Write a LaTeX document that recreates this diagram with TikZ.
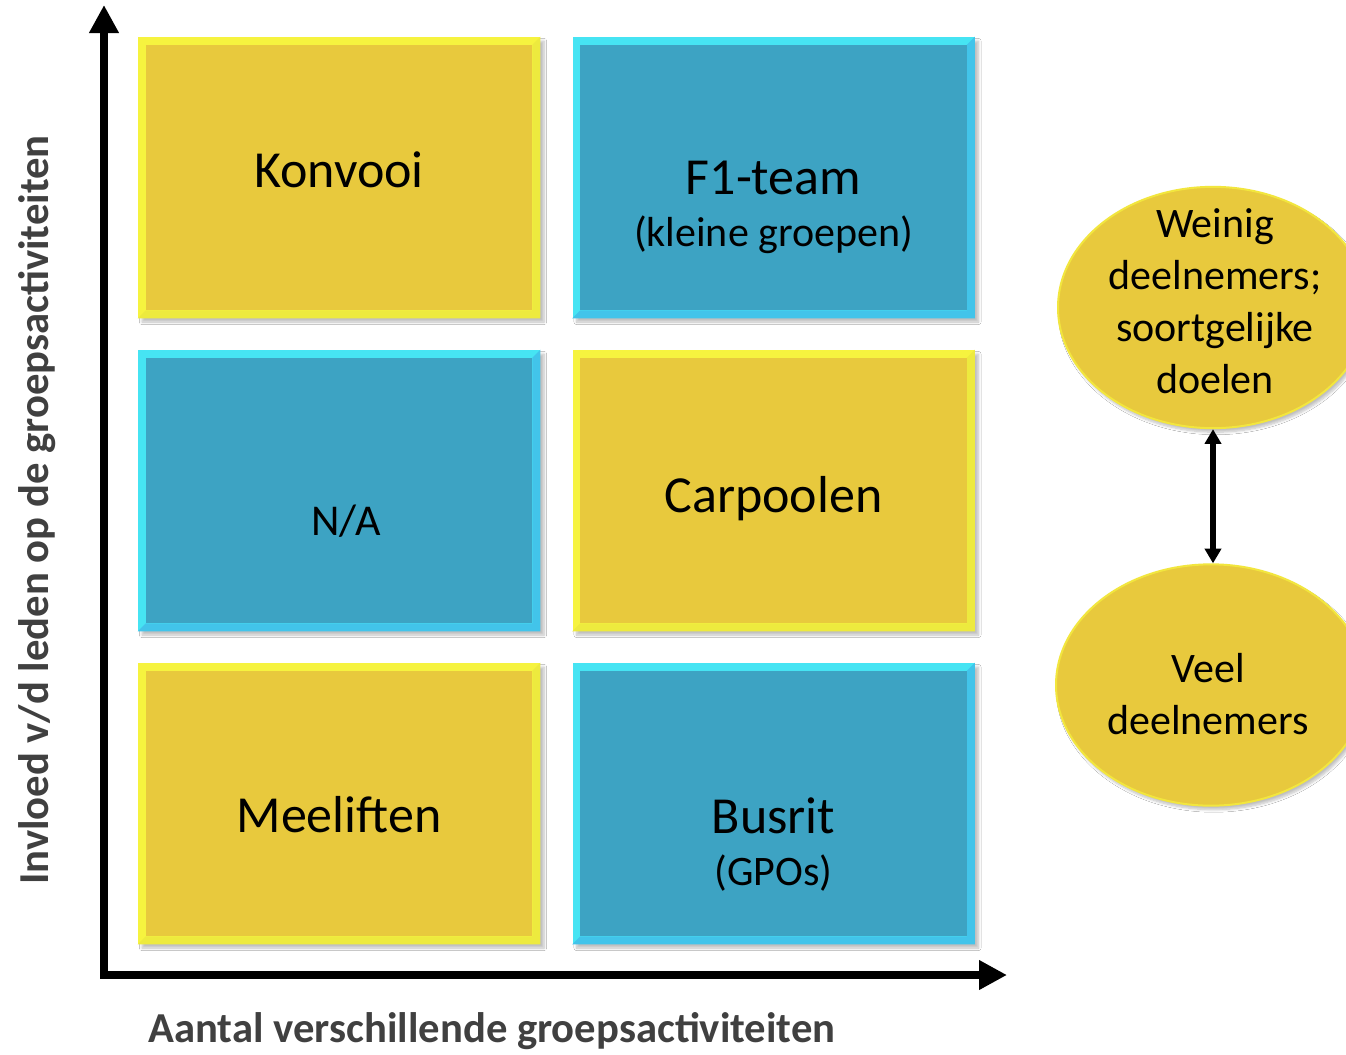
\documentclass[tikz,border=0pt]{standalone}
\usepackage{fontspec}
\setmainfont{Carlito}
\usetikzlibrary{arrows.meta,shadows.blur,calc,shapes.geometric}
\definecolor{ygold}{HTML}{E8C93D}
\definecolor{ylight}{HTML}{F6F33F}
\definecolor{ydark}{HTML}{EDEA3E}
\definecolor{bfill}{HTML}{3DA3C3}
\definecolor{blight}{HTML}{46E4F3}
\definecolor{bdark}{HTML}{42C4EA}
\definecolor{axisgray}{HTML}{404040}
\tikzset{
  quad/.style={minimum width=301.5pt, minimum height=210.75pt, inner sep=0pt, draw=none,
    blur shadow={shadow xshift=3pt, shadow yshift=-3pt, shadow blur steps=6, shadow opacity=25}},
  yquad/.style={quad, fill=ylight},
  bquad/.style={quad, fill=blight},
  bigtxt/.style={font=\fontsize{39}{46}\selectfont, inner sep=0pt},
  midtxt/.style={font=\fontsize{31.5}{38}\selectfont, inner sep=0pt},
  axislbl/.style={font=\bfseries\fontsize{32}{38}\selectfont, text=axisgray, inner sep=0pt},
  axisline/.style={line width=6pt, {Triangle[length=21pt,width=21pt]}-{Triangle[length=21pt,width=21pt]}},
  bubble/.style={ellipse, minimum width=232.5pt, minimum height=181pt, inner sep=0pt,
    fill=ygold, draw=ylight!70!ygold, line width=1.5pt,
    blur shadow={shadow xshift=2pt, shadow yshift=-3pt, shadow blur steps=6, shadow opacity=25}},
  bubbletxt/.style={align=center, inner sep=0pt, font=\fontsize{31.5}{39}\selectfont},
  dblarrow/.style={line width=4.5pt, {Triangle[length=11pt,width=12pt]}-{Triangle[length=11pt,width=12pt]}}
}
\newcommand{\bevel}[3]{%
  \fill[#3] (#1.south west) -- (#1.south east) -- (#1.north east)
     -- ([shift={(-8,8)}]#1.north east) -- ([shift={(-8,-8)}]#1.south east)
     -- ([shift={(8,-8)}]#1.south west) -- cycle;
  \fill[#2] ([shift={(8,8)}]#1.north west) rectangle ([shift={(-8,-8)}]#1.south east);
}
\begin{document}
\begin{tikzpicture}[x=0.75pt,y=-0.75pt]
\useasboundingbox (0,0) rectangle (1346,1054);
\clip (0,0) rectangle (1346,1054);
\fill[white] (0,0) rectangle (1346,1054);

% quadrant boxes
\node[yquad] (tl) at (339,177.5) {};
\node[bquad] (tr) at (773.5,177.5) {};
\node[bquad] (ml) at (339,490.5) {};
\node[yquad] (mr) at (773.5,490.5) {};
\node[yquad] (bl) at (339,803.5) {};
\node[bquad] (br) at (773.5,803.5) {};
\bevel{tl}{ygold}{ydark}
\bevel{tr}{bfill}{bdark}
\bevel{ml}{bfill}{bdark}
\bevel{mr}{ygold}{ydark}
\bevel{bl}{ygold}{ydark}
\bevel{br}{bfill}{bdark}

% box labels
\node[bigtxt] (konvooi) at (339,170) {Konvooi};
\node[bigtxt] (f1) at (773.5,178) {F1-team};
\node[midtxt] (kg) at (773.5,235) {(kleine groepen)};
\node[font=\fontsize{33}{40}\selectfont, inner sep=0pt] (na) at (346,521) {N/A};
\node[bigtxt] (carpool) at (773.5,499) {Carpoolen};
\node[bigtxt] (meelift) at (339,815) {Meeliften};
\node[bigtxt] (busrit) at (773.5,816) {Busrit};
\node[midtxt] (gpos) at (773.5,873) {(GPOs)};

% axes
\coordinate (ytop) at (104,5);
\coordinate (corner) at (104,975);
\coordinate (xend) at (1007,975);
\draw[axisline, line join=miter] (ytop) -- (corner) -- (xend);
\node[axislbl] (xlab) at (492,1031) {Aantal verschillende groepsactiviteiten};
\node[axislbl, rotate=90] (ylab) at (37,510) {Invloed v/d leden op de groepsactiviteiten};

% bubbles
\node[bubble] (few) at (1213,307.5) {};
\node[bubble] (many) at (1211,685) {};
\node[bubbletxt] (fewtxt) at (1215,301) {Weinig\\deelnemers;\\soortgelijke\\doelen};
\node[bubbletxt] (manytxt) at (1208,694) {Veel\\deelnemers};
\draw[dblarrow] (few.south) -- (few.south |- many.north);
\end{tikzpicture}
\end{document}
